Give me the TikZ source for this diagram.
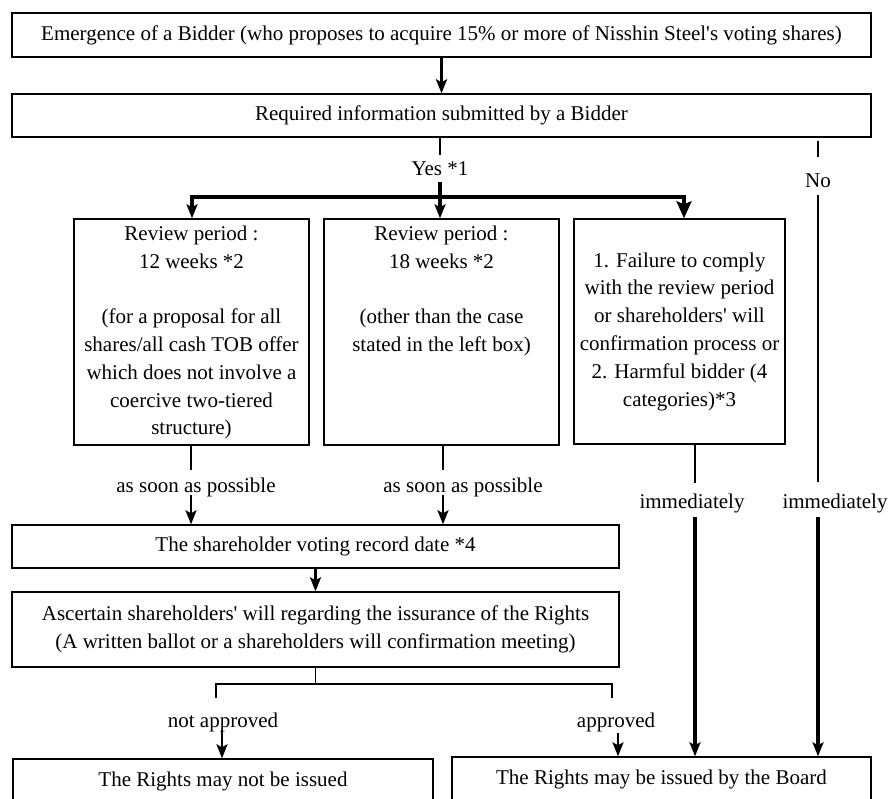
\documentclass[tikz,border=0pt]{standalone}
\usepackage{fontspec}
\setmainfont{Liberation Serif}
\usetikzlibrary{arrows.meta}
\newcommand\diagfont{\fontsize{21}{27.8}\selectfont}
\begin{document}
\begin{tikzpicture}[x=1pt,y=-1pt,
 box/.style={draw, line width=1.4pt, inner sep=0pt, align=center, font=\diagfont},
 lbl/.style={inner sep=0pt, font=\diagfont},
 thinln/.style={line width=1.3pt},
 medln/.style={line width=2.2pt},
 thickln/.style={line width=3.4pt},
 tip/.style={-{Stealth[length=14pt,width=11pt,inset=3pt]}},
 bigtip/.style={-{Stealth[length=17pt,width=15pt,inset=3pt]}}]
\useasboundingbox (0,0) rectangle (888,798);
% boxes
\node[box, minimum width=859pt, minimum height=44pt] (b1) at (441.5,35) {Emergence of a Bidder (who proposes to acquire 15\% or more of Nisshin Steel\textquotesingle s voting shares)};
\node[box, minimum width=859pt, minimum height=43pt] (b2) at (441.5,115.5) {Required information submitted by a Bidder};
\node[box, minimum width=235pt, minimum height=226pt] (b3) at (191.5,332) {\strut Review period :\\12 weeks *2\\~\\(for a proposal for all\\shares/all cash TOB offer\\which does not involve a\\coercive two-tiered\\structure)\strut};
\node[box, minimum width=235pt, minimum height=226pt] (b4) at (441.5,332) {\strut Review period :\\18 weeks *2\\~\\(other than the case\\stated in the left box)\\~\\~\\~\strut};
\node[box, minimum width=211pt, minimum height=225pt] (b5) at (679.5,331.5) {1. Failure to comply\\with the review period\\or shareholders\textquotesingle{} will\\confirmation process or\\2. Harmful bidder (4\\categories)*3};
\node[box, minimum width=607pt, minimum height=43pt] (b6) at (315.5,546.5) {The shareholder voting record date *4};
\node[box, minimum width=607pt, minimum height=75pt] (b7) at (315.5,629.5) {Ascertain shareholders\textquotesingle{} will regarding the issurance of the Rights\\(A written ballot or a shareholders will confirmation meeting)};
\node[box, minimum width=420pt, minimum height=44pt] (b8) at (223,781) {The Rights may not be issued};
\node[box, minimum width=419pt, minimum height=44pt] (b9) at (661.5,779) {The Rights may be issued by the Board};
% top arrow
\draw[thickln, tip] (b1.south) -- (b2.north);
% yes branch
\coordinate (ys) at (440,155);
\draw[thinln] (b2.south -| ys) -- (ys);
\node[lbl, anchor=base] (yes) at (440,175) {Yes *1};
\coordinate (ya) at (440,182);
\coordinate (hm) at (440,197);
\coordinate (hl) at (192,197);
\coordinate (hr) at (684,197);
\draw[thickln] (ya) -- (hm);
\draw[thickln, tip] (hm) -- (hl) -- (hl |- b3.north);
\draw[thickln, tip] (hm) -- (hm |- b4.north);
\draw[thickln, bigtip] (hm) -- (hr) -- (hr |- b5.north);
% no branch
\coordinate (n1) at (818,141);
\coordinate (n2) at (818,157);
\draw[thinln] (n1) -- (n2);
\node[lbl, anchor=base] (no) at (818,187) {No};
\coordinate (n3) at (818,195);
\coordinate (n4) at (818,482);
\draw[medln] (n3) -- (n4);
\node[lbl, anchor=base] (imm2) at (835,508) {immediately};
\coordinate (n5) at (818,517);
\draw[thickln, tip] (n5) -- (n5 |- b9.north);
% failure box
\coordinate (f1) at (695,483);
\draw[thinln] (b5.south -| f1) -- (f1);
\node[lbl, anchor=base] (imm1) at (692,508) {immediately};
\coordinate (f2) at (695,517);
\draw[thickln, tip] (f2) -- (f2 |- b9.north);
% review boxes
\coordinate (l1) at (191,470);
\draw[thinln] (b3.south -| l1) -- (l1);
\node[lbl, anchor=base] (asap1) at (196,492) {as soon as possible};
\coordinate (l2) at (191,495);
\draw[medln, tip] (l2) -- (l2 |- b6.north);
\coordinate (m1) at (443,470);
\draw[thinln] (b4.south -| m1) -- (m1);
\node[lbl, anchor=base] (asap2) at (463,492) {as soon as possible};
\coordinate (m2) at (443,495);
\draw[medln, tip] (m2) -- (m2 |- b6.north);
% record date to ballot
\draw[medln, tip] (b6.south) -- (b7.north);
% ballot bracket
\coordinate (s1) at (315.5,684);
\coordinate (bl) at (216,684);
\coordinate (br) at (612,684);
\coordinate (bl2) at (216,698);
\coordinate (br2) at (612,698);
\draw[thinln] (b7.south) -- (s1);
\draw[thinln] (bl2) -- (bl) -- (br) -- (br2);
\node[lbl, anchor=base] (na) at (223,727) {not approved};
\coordinate (na1) at (222,730);
\draw[medln, tip] (na1) -- (na1 |- b8.north);
\node[lbl, anchor=base] (ap) at (616,727) {approved};
\coordinate (ap1) at (618,733);
\draw[medln, tip] (ap1) -- (ap1 |- b9.north);
\end{tikzpicture}
\end{document}
